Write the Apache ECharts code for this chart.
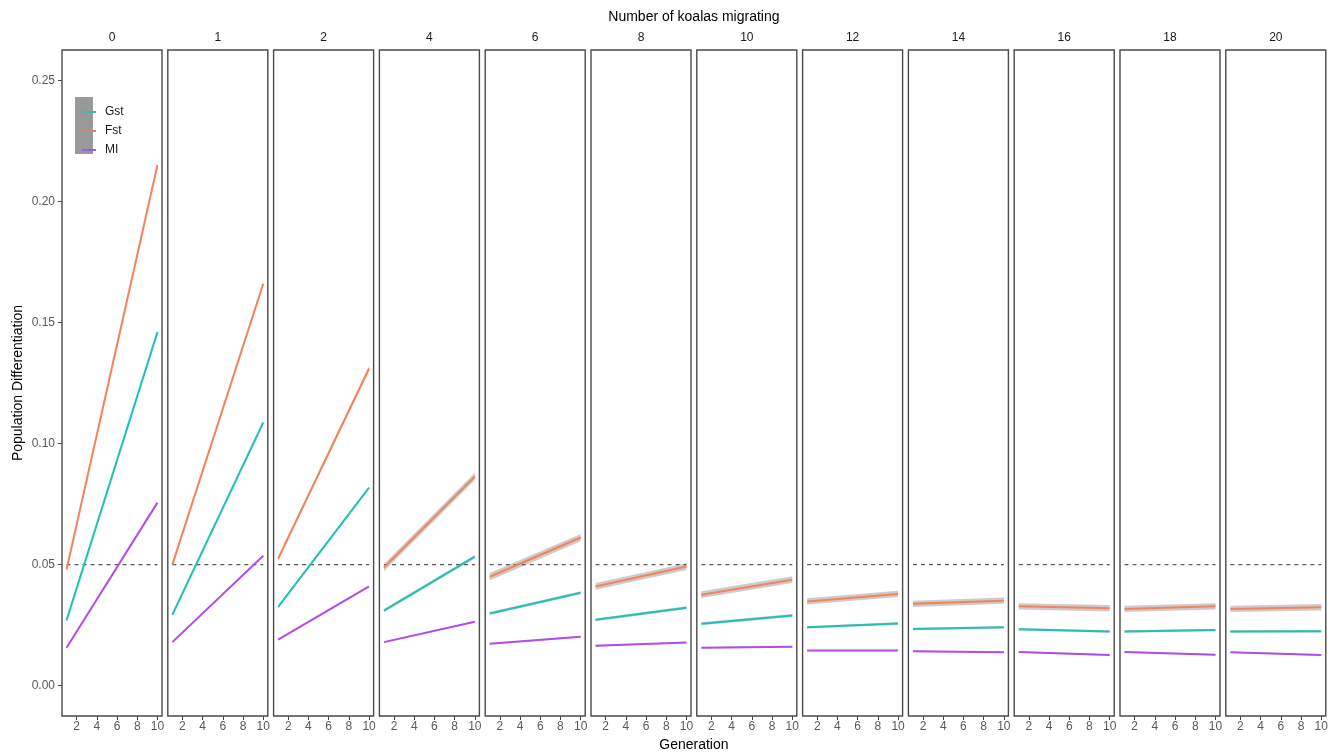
<!DOCTYPE html>
<html>
<head>
<meta charset="utf-8">
<script src="https://cdn.jsdelivr.net/npm/echarts@6/dist/echarts.min.js"></script>
<style>html,body{margin:0;padding:0;background:#fff;}#c{width:1341px;height:754px;}</style>
</head>
<body>
<div id="c"></div>
<script>
// Facet labels: number of koalas migrating
var migrants = [0, 1, 2, 4, 6, 8, 10, 12, 14, 16, 18, 20];
// Generations at which the fitted (straight) lines start and end
var generations = [1, 10];
var xTicks = [2, 4, 6, 8, 10];
var yTicks = [0, 0.05, 0.10, 0.15, 0.20, 0.25];
var threshold = 0.05;

// Fitted values at generation 1 and generation 10, per panel
var gstStart = [0.0270, 0.0293, 0.0326, 0.0310, 0.0298, 0.0272, 0.0256, 0.0241, 0.0234, 0.0233, 0.0224, 0.0224];
var gstEnd   = [0.1460, 0.1087, 0.0818, 0.0533, 0.0384, 0.0322, 0.0290, 0.0257, 0.0241, 0.0224, 0.0230, 0.0225];
var fstStart = [0.0480, 0.0500, 0.0525, 0.0488, 0.0450, 0.0410, 0.0376, 0.0348, 0.0338, 0.0328, 0.0317, 0.0317];
var fstEnd   = [0.2150, 0.1660, 0.1310, 0.0864, 0.0612, 0.0492, 0.0438, 0.0379, 0.0351, 0.0320, 0.0328, 0.0324];
var miStart  = [0.0157, 0.0180, 0.0190, 0.0180, 0.0173, 0.0165, 0.0157, 0.0145, 0.0142, 0.0139, 0.0139, 0.0138];
var miEnd    = [0.0756, 0.0537, 0.0410, 0.0264, 0.0202, 0.0178, 0.0161, 0.0145, 0.0138, 0.0127, 0.0128, 0.0127];
// Half-width of the grey confidence ribbon, per panel
var gstSe = [0.0003, 0.0004, 0.0005, 0.0007, 0.0006, 0.0006, 0.0006, 0.0005, 0.0005, 0.0005, 0.0005, 0.0005];
var fstSe = [0.0005, 0.0007, 0.0009, 0.0015, 0.0015, 0.0014, 0.0014, 0.0013, 0.0013, 0.0013, 0.0013, 0.0013];
var miSe  = [0.0002, 0.0002, 0.0003, 0.0003, 0.0003, 0.0003, 0.0003, 0.0003, 0.0003, 0.0003, 0.0003, 0.0003];

var metrics = [
  {name: 'Gst', start: gstStart, end: gstEnd, se: gstSe, color: '#22C1B5', key: '#45B9AE'},
  {name: 'Fst', start: fstStart, end: fstEnd, se: fstSe, color: '#F2845C', key: '#CC8A7C'},
  {name: 'MI',  start: miStart,  end: miEnd,  se: miSe,  color: '#B24BEF', key: '#9C5FD6'}
];

var chart = echarts.init(document.getElementById('c'), null, {renderer: 'canvas'});

var panelLeft = 62, panelPitch = 105.8, panelW = 100, panelTop = 50, panelH = 666;
var grids = [], xAxes = [], yAxes = [], series = [], graphics = [];
var FONT = 'Liberation Sans, Arial, sans-serif';

function ribbonItem(params, api) {
  var p1 = api.coord([api.value(0), api.value(1)]);
  var p2 = api.coord([api.value(3), api.value(4)]);
  var p3 = api.coord([api.value(3), api.value(5)]);
  var p4 = api.coord([api.value(0), api.value(2)]);
  return {type: 'polygon', shape: {points: [p1, p2, p3, p4]},
    style: {fill: 'rgba(153,153,153,0.5)', stroke: null}};
}

migrants.forEach(function (m, i) {
  var left = panelLeft + i * panelPitch;
  grids.push({left: left, top: panelTop, width: panelW, height: panelH, show: true,
    borderColor: '#4a4a4a', borderWidth: 1.4, backgroundColor: '#fff', containLabel: false});
  xAxes.push({
    type: 'value', gridIndex: i, min: 0.55, max: 10.45,
    axisLine: {show: false, onZero: false}, splitLine: {show: false},
    axisTick: {show: true, customValues: xTicks, length: 4, lineStyle: {color: '#444', width: 1}},
    axisLabel: {show: true, customValues: xTicks, margin: 5, fontSize: 12, color: '#595959', fontFamily: FONT}
  });
  yAxes.push({
    type: 'value', gridIndex: i, min: -0.0125, max: 0.2625,
    axisLine: {show: false, onZero: false}, splitLine: {show: false},
    axisTick: {show: i === 0, customValues: yTicks, length: 4, lineStyle: {color: '#444', width: 1}},
    axisLabel: {show: i === 0, customValues: yTicks, margin: 7, fontSize: 12, color: '#595959',
      fontFamily: FONT, formatter: function (v) { return v.toFixed(2); }}
  });
  graphics.push({type: 'text', x: left + panelW / 2, y: 38, silent: true,
    style: {text: String(m), textAlign: 'center', textVerticalAlign: 'middle', fontSize: 12,
      fill: '#1A1A1A', fontFamily: FONT}});

  // ribbons
  metrics.forEach(function (mt) {
    series.push({type: 'custom', xAxisIndex: i, yAxisIndex: i, silent: true, z: 1,
      renderItem: ribbonItem, encode: {x: [0, 3], y: [1, 2, 4, 5]},
      data: [[generations[0], mt.start[i] - mt.se[i], mt.start[i] + mt.se[i],
              generations[1], mt.end[i] - mt.se[i], mt.end[i] + mt.se[i]]]});
  });
  // dashed threshold
  series.push({type: 'line', xAxisIndex: i, yAxisIndex: i, symbol: 'none', silent: true, z: 2,
    lineStyle: {color: '#555', width: 1.2, type: [4, 4]},
    data: [[generations[0], threshold], [generations[1], threshold]]});
  // fitted lines
  metrics.forEach(function (mt) {
    series.push({type: 'line', name: mt.name, xAxisIndex: i, yAxisIndex: i, symbol: 'none', z: 3,
      color: mt.color, lineStyle: {color: mt.color, width: 2},
      data: [[generations[0], mt.start[i]], [generations[1], mt.end[i]]]});
  });
});

// titles
var plotCenter = panelLeft + (11 * panelPitch + panelW) / 2;
graphics.push({type: 'text', x: plotCenter, y: 17, silent: true,
  style: {text: 'Number of koalas migrating', textAlign: 'center', textVerticalAlign: 'middle', fontSize: 14,
    fill: '#000', fontFamily: FONT}});
graphics.push({type: 'text', x: plotCenter, y: 745, silent: true,
  style: {text: 'Generation', textAlign: 'center', textVerticalAlign: 'middle', fontSize: 14,
    fill: '#000', fontFamily: FONT}});
graphics.push({type: 'text', x: 18, y: 383, rotation: Math.PI / 2, silent: true,
  style: {text: 'Population Differentiation', textAlign: 'center', textVerticalAlign: 'middle', fontSize: 14,
    fill: '#000', fontFamily: FONT}});
// legend key background
graphics.push({type: 'rect', shape: {x: 75, y: 97, width: 18, height: 57}, z: 0, silent: true,
  style: {fill: '#999999'}});

chart.setOption({
  animation: false,
  backgroundColor: '#fff',
  grid: grids,
  xAxis: xAxes,
  yAxis: yAxes,
  legend: {
    orient: 'vertical', left: 77, top: 100, itemWidth: 14, itemHeight: 2, itemGap: 5, icon: 'rect',
    selectedMode: false, z: 5,
    textStyle: {fontSize: 12, color: '#1A1A1A', lineHeight: 14, padding: [0, 0, 0, 4], fontFamily: FONT},
    data: metrics.map(function (mt) { return {name: mt.name, itemStyle: {color: mt.key}}; })
  },
  graphic: {elements: graphics},
  series: series
});
</script>
</body>
</html>
